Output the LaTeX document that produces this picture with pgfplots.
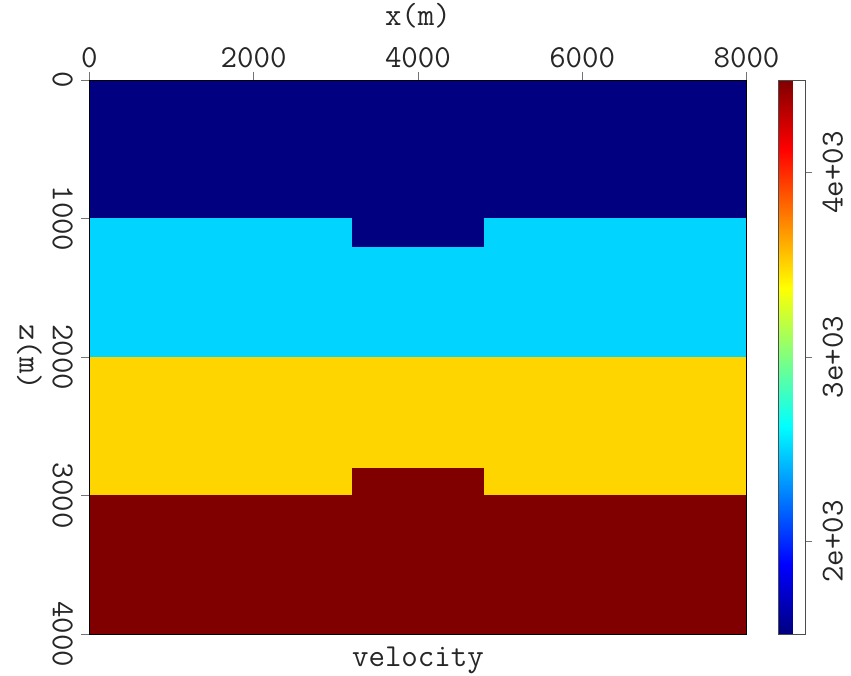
\documentclass[border=0pt]{standalone}
\usepackage{pgfplots}
\pgfplotsset{compat=1.18}
\usepackage{fontspec}
\newcommand{\lf}{\fontsize{32}{33}\selectfont\ttfamily}
\begin{document}
\begin{tikzpicture}
\begin{axis}[
  scale only axis, width=657pt, height=554pt,
  xmin=0, xmax=8000, ymin=0, ymax=4000, y dir=reverse,
  axis on top,
  /pgf/number format/assume math mode=true,
  /pgf/number format/1000 sep={},
  scaled ticks=false,
  xtick={0,2000,4000,6000,8000},
  ytick={0,1000,2000,3000,4000},
  xtick pos=right, xticklabel pos=right,
  ytick pos=left, yticklabel pos=left,
  tick align=outside, major tick length=8pt,
  tick style={black!55, line width=0.8pt},
  axis line style={black, line width=0.6pt},
  xticklabel style={font=\lf, text=black!85, yshift=1pt},
  yticklabel style={font=\lf, text=black!85, rotate=-90, anchor=north, yshift=-5pt},
  xlabel={x(m)}, ylabel={z(m)},
  xlabel style={font=\lf, text=black!85, yshift=12pt},
  ylabel style={font=\lf, text=black!85, at={(rel axis cs:0,0.5)}, anchor=center, rotate=180, yshift=-60pt, inner ysep=17pt},
  title={velocity},
  title style={at={(0.5,0)}, anchor=north, yshift=-18pt, font=\lf, text=black!85, inner ysep=1pt},
  colormap/jet, point meta min=1500, point meta max=4500,
  colorbar right,
  colorbar shift/.style={xshift=-4.4pt},
  colorbar style={
    scale only axis, width=27pt, height=554pt,
    ytick={2000,3000,4000},
    yticklabels={2e+03,3e+03,4e+03},
    ytick pos=right, yticklabel pos=right,
    tick align=outside, major tick length=7pt,
    tick style={black!55, line width=0.8pt},
    axis line style={black!70, line width=0.6pt},
    yticklabel style={font=\lf, text=black!85, rotate=90, anchor=north, yshift=-2pt, inner ysep=8pt},
  },
]
\addplot[patch, patch type=rectangle, shader=flat, point meta=explicit]
  table[x=x, y=z, meta=v] {
x z v
0 0 1500
8000 0 1500
8000 1000 1500
0 1000 1500
0 1000 2500
8000 1000 2500
8000 2000 2500
0 2000 2500
0 2000 3500
8000 2000 3500
8000 3000 3500
0 3000 3500
0 3000 4500
8000 3000 4500
8000 4000 4500
0 4000 4500
3200 1000 1500
4800 1000 1500
4800 1200 1500
3200 1200 1500
3200 2800 4500
4800 2800 4500
4800 3000 4500
3200 3000 4500
};
\end{axis}
\end{tikzpicture}
\end{document}
